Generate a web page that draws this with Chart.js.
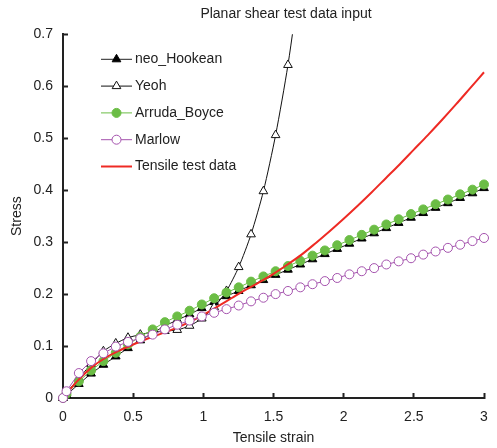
<!DOCTYPE html>
<html>
<head>
<meta charset="utf-8">
<script src="https://cdn.jsdelivr.net/npm/chart.js@4/dist/chart.umd.min.js"></script>
<style>
  html, body { margin: 0; padding: 0; background: #ffffff; }
  #wrap { width: 497px; height: 448px; }
</style>
</head>
<body>
<div id="wrap"><canvas id="c" width="497" height="448"></canvas></div>
<script>
// ---- data ----
const chartTitle = 'Planar shear test data input';
const xAxisTitle = 'Tensile strain';
const yAxisTitle = 'Stress';
const xTickValues = [0, 0.5, 1, 1.5, 2, 2.5, 3];
const xTickLabels = ['0', '0.5', '1', '1.5', '2', '2.5', '3'];
const yTickValues = [0, 0.1, 0.2, 0.3, 0.4, 0.5, 0.6, 0.7];
const yTickLabels = ['0', '0.1', '0.2', '0.3', '0.4', '0.5', '0.6', '0.7'];

const modelStrain = [0, 0.025, 0.113, 0.2, 0.288, 0.376, 0.463, 0.551, 0.639, 0.726, 0.814, 0.902,
  0.989, 1.077, 1.165, 1.252, 1.34, 1.428, 1.515, 1.603, 1.691, 1.778, 1.866, 1.954, 2.041,
  2.129, 2.217, 2.304, 2.392, 2.48, 2.567, 2.655, 2.743, 2.83, 2.918, 3.0];

const neoHookean = [0, 0.006, 0.027, 0.047, 0.064, 0.08, 0.096, 0.111, 0.125, 0.139, 0.15, 0.161,
  0.173, 0.185, 0.196, 0.206, 0.217, 0.227, 0.237, 0.247, 0.257, 0.267, 0.277, 0.287, 0.297,
  0.307, 0.317, 0.327, 0.337, 0.347, 0.356, 0.366, 0.375, 0.385, 0.394, 0.404];

const yeoh = [0, 0.01, 0.038, 0.065, 0.09, 0.105, 0.116, 0.122, 0.127, 0.129, 0.131, 0.139,
  0.153, 0.175, 0.206, 0.252, 0.315, 0.398, 0.506, 0.641, 0.81];

const arrudaBoyce = [0, 0.008, 0.032, 0.053, 0.071, 0.087, 0.103, 0.118, 0.132, 0.146, 0.157, 0.168,
  0.18, 0.192, 0.203, 0.213, 0.224, 0.234, 0.244, 0.254, 0.264, 0.274, 0.284, 0.294, 0.304,
  0.314, 0.324, 0.334, 0.344, 0.354, 0.363, 0.373, 0.382, 0.392, 0.401, 0.411];

const marlow = [0, 0.013, 0.048, 0.071, 0.086, 0.099, 0.108, 0.115, 0.122, 0.132, 0.141, 0.149,
  0.157, 0.164, 0.171, 0.178, 0.186, 0.193, 0.2, 0.206, 0.213, 0.219, 0.225, 0.231, 0.238,
  0.244, 0.25, 0.257, 0.263, 0.269, 0.276, 0.282, 0.289, 0.295, 0.302, 0.308];

const tensileStrain = [0, 0.1, 0.2, 0.3, 0.4, 0.5, 0.6, 0.7, 0.8, 0.9, 1.0, 1.1, 1.2, 1.3, 1.4, 1.5,
  1.6, 1.7, 1.8, 1.9, 2.0, 2.1, 2.2, 2.3, 2.4, 2.5, 2.6, 2.7, 2.8, 2.9, 3.0];
const tensileStress = [0, 0.032, 0.058, 0.077, 0.091, 0.103, 0.114, 0.124, 0.134, 0.146, 0.16, 0.176,
  0.192, 0.208, 0.223, 0.239, 0.257, 0.276, 0.298, 0.321, 0.345, 0.37, 0.396, 0.423, 0.45, 0.478,
  0.506, 0.535, 0.565, 0.596, 0.627];

// ---- build chart ----
function pairs(xs, ys) { return ys.map((y, i) => ({ x: xs[i], y: y })); }

const FONT = '"Liberation Sans", Arial, Helvetica, sans-serif';
const TEXT = '#222222';

function drawMarker(ctx, style, x, y, r, fill, stroke, bw) {
  ctx.save();
  ctx.beginPath();
  if (style === 'triangle') {
    let rad = 0;
    ctx.moveTo(x + Math.sin(rad) * r, y - Math.cos(rad) * r);
    rad += 2 * Math.PI / 3;
    ctx.lineTo(x + Math.sin(rad) * r, y - Math.cos(rad) * r);
    rad += 2 * Math.PI / 3;
    ctx.lineTo(x + Math.sin(rad) * r, y - Math.cos(rad) * r);
    ctx.closePath();
  } else {
    ctx.arc(x, y, r, 0, Math.PI * 2);
  }
  ctx.fillStyle = fill; ctx.fill();
  ctx.lineWidth = bw; ctx.strokeStyle = stroke; ctx.stroke();
  ctx.restore();
}

const insideLegend = {
  id: 'insideLegend',
  afterDraw(chart) {
    const ctx = chart.ctx;
    const lx0 = 101, lx1 = 132, tx = 135, y0 = 59.3, dy = 26.8;
    chart.data.datasets.forEach((ds, i) => {
      const y = y0 + i * dy;
      ctx.save();
      ctx.beginPath();
      ctx.strokeStyle = ds.borderColor;
      ctx.lineWidth = ds.borderWidth;
      ctx.moveTo(lx0, y); ctx.lineTo(lx1, y); ctx.stroke();
      if (ds.pointRadius > 0) {
        drawMarker(ctx, ds.pointStyle, (lx0 + lx1) / 2, y, ds.pointRadius,
          ds.pointBackgroundColor, ds.pointBorderColor, ds.pointBorderWidth);
      }
      ctx.fillStyle = TEXT;
      ctx.font = '14px ' + FONT;
      ctx.textBaseline = 'middle';
      ctx.textAlign = 'left';
      ctx.fillText(ds.label, tx, y);
      ctx.restore();
    });
  }
};

const shiftTitle = {
  id: 'shiftTitle',
  afterLayout(chart) {
    const tb = chart.titleBlock;
    if (tb) { tb.left += 44; tb.right += 44; }
  }
};

new Chart(document.getElementById('c'), {
  type: 'line',
  data: {
    datasets: [
      {
        label: 'neo_Hookean', data: pairs(modelStrain, neoHookean),
        borderColor: '#222222', borderWidth: 1, pointStyle: 'triangle', pointRadius: 5,
        pointBackgroundColor: '#000000', pointBorderColor: '#000000', pointBorderWidth: 1,
        tension: 0, order: 5, clip: false
      },
      {
        label: 'Yeoh', data: pairs(modelStrain, yeoh),
        borderColor: '#111111', borderWidth: 1, pointStyle: 'triangle', pointRadius: 5,
        pointBackgroundColor: '#ffffff', pointBorderColor: '#111111', pointBorderWidth: 1,
        tension: 0.25, order: 4, clip: { left: 10, top: 0, right: 10, bottom: 10 }
      },
      {
        label: 'Arruda_Boyce', data: pairs(modelStrain, arrudaBoyce),
        borderColor: '#6bbd45', borderWidth: 1, pointStyle: 'circle', pointRadius: 4.5,
        pointBackgroundColor: '#6bbd45', pointBorderColor: '#6bbd45', pointBorderWidth: 1,
        tension: 0, order: 3, clip: false
      },
      {
        label: 'Marlow', data: pairs(modelStrain, marlow),
        borderColor: '#a452ad', borderWidth: 1, pointStyle: 'circle', pointRadius: 4.5,
        pointBackgroundColor: '#ffffff', pointBorderColor: '#a452ad', pointBorderWidth: 1,
        tension: 0, order: 1, clip: false
      },
      {
        label: 'Tensile test data', data: pairs(tensileStrain, tensileStress),
        borderColor: '#ee2a24', borderWidth: 2, pointRadius: 0,
        pointBackgroundColor: '#ee2a24', pointBorderColor: '#ee2a24', pointBorderWidth: 0,
        cubicInterpolationMode: 'monotone', order: 2, clip: false
      }
    ]
  },
  options: {
    responsive: false,
    devicePixelRatio: 1,
    animation: false,
    events: [],
    layout: { padding: { left: 0, right: 13, top: 0, bottom: 0 } },
    plugins: {
      legend: { display: false },
      tooltip: { enabled: false },
      title: {
        display: true, text: chartTitle, color: TEXT,
        font: { family: FONT, size: 14, weight: 'normal' },
        padding: { top: 6, bottom: 11.5 }
      }
    },
    scales: {
      x: {
        type: 'linear', min: 0, max: 3,
        afterBuildTicks: (s) => { s.ticks = xTickValues.map(v => ({ value: v })); },
        afterFit: (s) => { s.height = 50; s.paddingLeft = 0; s.paddingRight = 0; },
        border: { display: true, color: '#222222', width: 2 },
        grid: { display: true, drawOnChartArea: false, drawTicks: true, tickLength: -5, tickColor: '#222222', tickWidth: 2 },
        ticks: { color: TEXT, font: { family: FONT, size: 14 }, padding: 16, maxRotation: 0,
          callback: (v, i) => xTickLabels[i] },
        title: { display: true, text: xAxisTitle, color: TEXT, font: { family: FONT, size: 14 }, padding: { top: 0, bottom: 1.6 } }
      },
      y: {
        type: 'linear', min: 0, max: 0.7,
        afterBuildTicks: (s) => { s.ticks = yTickValues.map(v => ({ value: v })); },
        afterFit: (s) => { s.width = 63; s.paddingTop = 0; s.paddingBottom = 0; },
        border: { display: true, color: '#222222', width: 2 },
        grid: { display: true, drawOnChartArea: false, drawTicks: true, tickLength: -5, tickColor: '#222222', tickWidth: 2 },
        ticks: { color: TEXT, font: { family: FONT, size: 14 }, padding: 15,
          callback: (v, i) => yTickLabels[i] },
        title: { display: true, text: yAxisTitle, color: TEXT, font: { family: FONT, size: 14 }, padding: { top: 8.6, bottom: 0 } }
      }
    }
  },
  plugins: [insideLegend, shiftTitle]
});
</script>
</body>
</html>
